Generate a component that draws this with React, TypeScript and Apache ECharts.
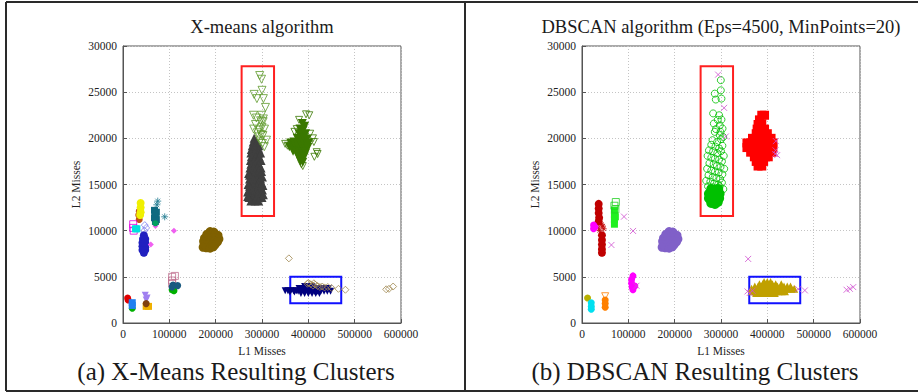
import React, { useEffect, useRef } from "react";
import * as echarts from "echarts";

type P = [number, number];

const panelTitles = ["X-means algorithm", "DBSCAN algorithm (Eps=4500, MinPoints=20)"];
const captions = ["(a) X-Means Resulting Clusters", "(b) DBSCAN Resulting Clusters"];
const xAxisName = "L1 Misses";
const yAxisName = "L2 Misses";
const xRange = [0, 600000, 100000];
const yRange = [0, 30000, 5000];

// highlighted regions [x1, y1, x2, y2]
const redBox = [256000, 11600, 326000, 27800];
const blueBox = [361000, 2150, 471000, 5000];

// ---------- X-means clusters ----------
const xmGray: P[] = [
  [283000, 20000], [281000, 19600], [288000, 19600], [279000, 19200], [286000, 19200], [293000, 19200],
  [277000, 18800], [285000, 18800], [293000, 18800], [276000, 18400], [284000, 18400], [292000, 18400], [297000, 18400],
  [277000, 18000], [286000, 18000], [294000, 18000], [275000, 17600], [283000, 17600], [291000, 17600], [298000, 17600],
  [276000, 17200], [285000, 17200], [293000, 17200], [274000, 16800], [282000, 16800], [290000, 16800], [298000, 16800],
  [275000, 16400], [284000, 16400], [292000, 16400], [299000, 16400], [273000, 16000], [282000, 16000], [290000, 16000], [297000, 16000],
  [273000, 15600], [281000, 15600], [289000, 15600], [297000, 15600], [275000, 15200], [284000, 15200], [292000, 15200], [299000, 15200],
  [273000, 14800], [281000, 14800], [289000, 14800], [297000, 14800],
  [272000, 14400], [280000, 14400], [288000, 14400], [295000, 14400], [301000, 14400],
  [274000, 14000], [282000, 14000], [290000, 14000], [298000, 14000],
  [272000, 13600], [280000, 13600], [288000, 13600], [295000, 13600], [300000, 13600],
  [276000, 13200], [285000, 13200], [293000, 13200],
  [269000, 14200], [270000, 15000], [302000, 14900], [301000, 15800], [271000, 16200], [269000, 13700], [303000, 13900],
];
const xmLightGreenOpen: P[] = [
  [295000, 26800], [299000, 26400], [300000, 25200], [283000, 24760], [289000, 24300], [303000, 24300], [307500, 23350],
  [281600, 22500], [299000, 22500], [286000, 21500], [302400, 21800], [282000, 21000], [294000, 20900], [305400, 21000],
  [292000, 20150], [302000, 20300], [309700, 19800], [301000, 19440], [305000, 19100], [296000, 19700], [288000, 22200],
  [297000, 21900], [300000, 21200], [303000, 22100], [290000, 20600], [298000, 20400],
];
const xmDarkGreen: P[] = [
  [387000, 21600], [392000, 21300], [382000, 21000], [389000, 20900], [380000, 20500], [387000, 20400], [394000, 20500],
  [376000, 20000], [383000, 19900], [390000, 20000], [397000, 19900],
  [362000, 19500], [369000, 19600], [376000, 19500], [383000, 19400], [390000, 19500], [397000, 19400], [401000, 19500],
  [359000, 19100], [366000, 19000], [373000, 19000], [380000, 18900], [387000, 19000], [394000, 18900], [399000, 19000],
  [367000, 18600], [374000, 18500], [381000, 18400], [388000, 18500], [394000, 18400],
  [378000, 18000], [385000, 17900], [391000, 18000], [383000, 17500], [388000, 17400],
];
const xmDarkGreenOpen: P[] = [
  [395000, 22600], [402000, 22500], [380000, 22000], [375000, 21000], [404000, 20500], [410000, 20000], [412000, 19600],
  [418000, 18500], [420000, 18300], [413000, 18000], [355000, 19200], [350000, 19400], [385000, 17200], [388000, 17000], [370000, 20700],
];
const xmNavy: P[] = [
  [350000, 3500], [356000, 3500], [362000, 3500], [368000, 3500], [374000, 3500], [360000, 3350], [370000, 3350],
  [380000, 3750], [387000, 3750], [394000, 3750], [401000, 3750], [408000, 3750], [415000, 3750], [422000, 3750], [429000, 3750], [436000, 3750], [443000, 3750],
  [378000, 3450], [385000, 3450], [392000, 3450], [399000, 3450], [406000, 3450], [413000, 3450], [420000, 3450], [427000, 3450], [434000, 3450], [441000, 3450], [448000, 3450],
  [384000, 3200], [392000, 3200], [400000, 3200], [408000, 3200], [416000, 3200], [424000, 3200],
  [392000, 3950], [400000, 3950], [408000, 3950],
];
const xmTanOpen: P[] = [
  [398000, 4250], [405000, 4200], [410000, 4050], [415000, 4150], [420000, 4000], [425000, 3900], [430000, 3950],
  [435000, 3850], [442000, 3900], [450000, 3800], [465000, 3700], [480000, 3600], [358000, 7000],
  [568000, 3650], [574000, 3700], [583000, 3950], [400000, 4350], [412000, 4300],
];
const xmOlive: P[] = [
  [188000, 9900], [196000, 9850], [181000, 9600], [190000, 9550], [199000, 9600], [205000, 9500],
  [176000, 9200], [184000, 9250], [192000, 9200], [200000, 9250], [207000, 9100],
  [174000, 8850], [181000, 8850], [189000, 8900], [197000, 8850], [204000, 8800],
  [175000, 8500], [183000, 8500], [191000, 8450], [199000, 8500],
  [173000, 8200], [180000, 8150], [188000, 8100], [195000, 8250],
];
const xmYellow: P[] = [[38000, 13000], [38000, 12500], [38000, 12000], [37000, 11700]];
const xmRust: P[] = [[35000, 11200], [34000, 11700], [35000, 12100]];
const xmMagentaOpen: P[] = [[22000, 10700], [22000, 10300], [23000, 10000]];
const xmCyan: P[] = [[30000, 10200], [27000, 10200]];
const xmLavenderOpen: P[] = [[47000, 10600], [50000, 10300], [46000, 10000]];
const xmBlue: P[] = [
  [45000, 9500], [43000, 9100], [48000, 9100], [42000, 8700], [48000, 8700], [42000, 8300], [48000, 8200],
  [42000, 7900], [48000, 7900], [45000, 7600],
];
const xmPink: P[] = [[60000, 8500], [110000, 10000], [70000, 10500], [70000, 10700]];
const xmTealStar: P[] = [[75000, 13200], [73000, 12800], [90000, 11500]];
const xmTeal: P[] = [[68000, 12200], [70000, 11800], [68000, 11400], [72000, 11200], [70000, 11000], [72000, 12000]];
const xmSeaGreen: P[] = [[70000, 10800]];
const xmRoseOpen: P[] = [[106000, 5000], [112000, 5100], [106000, 4600], [106000, 4300]];
const xmSteel: P[] = [[108000, 4100], [118000, 4050], [106000, 3900]];
const xmGreen: P[] = [[106000, 3600], [110000, 3500], [108000, 3800], [20000, 1600]];
const xmRed: P[] = [[10000, 2700], [11000, 2500]];
const xmSky: P[] = [[20000, 2200], [20000, 1900]];
const xmPurpleTri: P[] = [[48000, 3000], [52000, 2700], [50000, 2500]];
const xmBrown: P[] = [[50000, 2100]];
const xmAmber: P[] = [[50000, 1800], [55000, 1800]];

// ---------- DBSCAN clusters ----------
const dbGreenOpen: P[] = [
  [299600, 26300], [286600, 24840], [299600, 25200], [301000, 24300], [288800, 24200], [283000, 22700], [296000, 22500],
  [301000, 22030], [284500, 21600], [297400, 21400], [303300, 21060], [286600, 20700], [297400, 20340], [304600, 20150],
  [281700, 19800], [291600, 19600], [300000, 19900], [293000, 22000], [289000, 21000], [299000, 20700],
  [279000, 19300], [288000, 19100], [296000, 18900], [303000, 19200],
  [274000, 18700], [283000, 18600], [292000, 18400], [300000, 18600], [306000, 18100],
  [271000, 18100], [279000, 17900], [287000, 17800], [296000, 17700], [302000, 17500],
  [275000, 17300], [284000, 17200], [291000, 17000], [299000, 16900], [307000, 16700],
  [270000, 16700], [279000, 16500], [287000, 16400], [295000, 16300], [303000, 16100],
  [273000, 16000], [282000, 15800], [290000, 15700], [298000, 15600],
  [268000, 15400], [277000, 15300], [285000, 15100], [294000, 15000], [302000, 15200],
  [272000, 14800], [281000, 14700], [289000, 14600], [297000, 14800], [305000, 14500],
];
const dbGreen: P[] = [
  [279000, 14500], [287000, 14400], [294000, 14500], [274000, 14000], [282000, 14000], [290000, 13900], [297000, 14000],
  [274000, 13500], [282000, 13500], [290000, 13400], [296000, 13500], [279000, 13000], [287000, 12900], [293000, 13100],
];
const dbNoise: P[] = [
  [293800, 26900], [306700, 23300], [310400, 20200], [418400, 19700], [417700, 18700], [421200, 18180], [417000, 18300],
  [63500, 8450], [110200, 9970], [90700, 11520], [117500, 4030], [358600, 6940], [357200, 3420], [368000, 3490], [362000, 3250],
  [466600, 3670], [481000, 3530], [571000, 3600], [578200, 3700], [585400, 3890],
];
const dbRed: P[] = [
  [388000, 22500], [394000, 22500], [383000, 22000], [380000, 21500], [388000, 21500],
  [378000, 21000], [386000, 21000], [394000, 21000], [376000, 20500], [384000, 20500], [392000, 20500], [400000, 20500],
  [368000, 20000], [376000, 20000], [384000, 20000], [392000, 20000], [400000, 20000], [408000, 20000],
  [356000, 19500], [364000, 19500], [372000, 19500], [380000, 19500], [388000, 19500], [396000, 19500], [404000, 19500], [412000, 19500],
  [356000, 19000], [364000, 19000], [372000, 19000], [380000, 19000], [388000, 19000], [396000, 19000], [404000, 19000], [412000, 19000],
  [364000, 18500], [372000, 18500], [380000, 18500], [388000, 18500], [396000, 18500], [404000, 18500], [410000, 18500],
  [372000, 18000], [380000, 18000], [388000, 18000], [396000, 18000], [402000, 18000],
  [376000, 17500], [384000, 17500], [392000, 17500], [380000, 17000], [388000, 17000],
];
const dbDarkRed: P[] = [
  [36000, 12900], [36000, 12400], [36000, 11900], [37000, 11400], [36000, 11000],
  [43000, 9500], [43000, 9000], [43000, 8500], [43000, 8000], [43000, 7600],
];
const dbDarkRedStar: P[] = [[45000, 10500], [35000, 10300], [42000, 10700], [38000, 10000], [47000, 10200]];
const dbMagenta: P[] = [
  [25000, 10600], [25000, 10200], [28000, 10400],
  [110000, 5100], [107000, 4700], [107000, 4300], [108000, 3900], [110000, 3600], [114000, 4000],
];
const dbLime: P[] = [[70000, 12200], [70000, 11700], [70000, 11200], [70000, 10700], [72000, 11500]];
const dbLimeOpen: P[] = [[73000, 13100], [70000, 12700], [72000, 12300]];
const dbPurple: P[] = [
  [188000, 9900], [196000, 9850], [181000, 9600], [190000, 9550], [199000, 9600], [205000, 9500],
  [176000, 9200], [184000, 9250], [192000, 9200], [200000, 9250], [207000, 9100],
  [174000, 8850], [181000, 8850], [189000, 8900], [197000, 8850], [204000, 8800],
  [175000, 8500], [183000, 8500], [191000, 8450], [199000, 8500],
  [173000, 8200], [180000, 8150], [188000, 8100], [195000, 8250],
];
const dbOlive: P[] = [[12000, 2700]];
const dbCyan: P[] = [[20000, 2200], [20000, 1800], [20000, 1500]];
const dbOrange: P[] = [[50000, 2500], [50000, 2100], [50000, 1700]];
const dbOrangeOpen: P[] = [[50000, 2900]];
const dbGold: P[] = [
  [393000, 4450], [400000, 4450], [407000, 4450],
  [383000, 4200], [390000, 4200], [397000, 4200], [404000, 4200], [411000, 4200], [418000, 4200], [430000, 4200],
  [373000, 3950], [380000, 3950], [387000, 3950], [394000, 3950], [401000, 3950], [408000, 3950], [415000, 3950], [422000, 3950],
  [429000, 3950], [436000, 3950], [443000, 3950], [450000, 3950],
  [366000, 3700], [373000, 3700], [380000, 3700], [387000, 3700], [394000, 3700], [401000, 3700], [408000, 3700], [415000, 3700],
  [422000, 3700], [429000, 3700], [436000, 3700], [443000, 3700], [452000, 3700], [458000, 3700],
  [368000, 3450], [375000, 3450], [382000, 3450], [389000, 3450], [396000, 3450], [403000, 3450], [410000, 3450], [417000, 3450],
  [424000, 3450], [431000, 3450], [438000, 3450],
  [376000, 3250], [386000, 3250], [396000, 3250], [406000, 3250], [416000, 3250],
];

const CROSS = "path://M0,0L10,10M10,0L0,10";
const STAR = "path://M5,0L5,10M0,5L10,5M1.5,1.5L8.5,8.5M8.5,1.5L1.5,8.5";
const SERIF = "'Liberation Serif', 'DejaVu Serif', serif";

function sc(
  data: P[], g: number, symbol: string, size: number, color: string,
  hollow = false, rotate = 0, extra: any = {}
) {
  return {
    type: "scatter",
    xAxisIndex: g,
    yAxisIndex: g,
    data,
    symbol,
    symbolSize: size,
    symbolRotate: rotate,
    silent: true,
    itemStyle: hollow
      ? { color: "rgba(0,0,0,0)", borderColor: color, borderWidth: 1 }
      : { color, opacity: 1 },
    ...extra,
  };
}

function box(b: number[], color: string) {
  return {
    silent: true,
    itemStyle: { color: "rgba(0,0,0,0)", borderColor: color, borderWidth: 2 },
    data: [[{ coord: [b[0], b[1]] }, { coord: [b[2], b[3]] }]],
  };
}

const App: React.FC = () => {
  const ref = useRef<HTMLDivElement>(null);
  useEffect(() => {
    if (!ref.current) return;
    const chart = echarts.init(ref.current, undefined, { renderer: "svg" });
    const grids = [
      { left: 123, top: 46, width: 278, height: 277 },
      { left: 582, top: 46, width: 278, height: 277 },
    ].map((g) => ({ ...g, show: true, borderColor: "#555", borderWidth: 1, backgroundColor: "transparent" }));
    const axisLabel = { fontFamily: SERIF, fontSize: 11.5, color: "#222", formatter: (v: number) => String(v) };
    const xAxes = [0, 1].map((i) => ({
      type: "value", gridIndex: i, min: xRange[0], max: xRange[1], interval: xRange[2],
      name: xAxisName, nameLocation: "middle", nameGap: 18,
      nameTextStyle: { fontFamily: SERIF, fontSize: 11.5, color: "#222" },
      axisLine: { show: true, lineStyle: { color: "#555" } },
      axisTick: { show: true, inside: true, length: 4, lineStyle: { color: "#555" } },
      axisLabel: { ...axisLabel, margin: 5 },
      splitLine: { show: true, lineStyle: { color: "#c4c4c4", type: [1, 2] } },
    }));
    const yAxes = [0, 1].map((i) => ({
      type: "value", gridIndex: i, min: yRange[0], max: yRange[1], interval: yRange[2],
      name: yAxisName, nameLocation: "middle", nameGap: 41,
      nameTextStyle: { fontFamily: SERIF, fontSize: 11.5, color: "#222" },
      axisLine: { show: true, lineStyle: { color: "#555" } },
      axisTick: { show: true, inside: true, length: 4, lineStyle: { color: "#555" } },
      axisLabel: { ...axisLabel, margin: 6 },
      splitLine: { show: true, lineStyle: { color: "#c4c4c4", type: [1, 2] } },
    }));

    const series: any[] = [
      // X-means
      sc(xmGray, 0, "triangle", 9, "#3f3f3f", false, 0, { markArea: box(redBox, "#ff2020") }),
      sc(xmLightGreenOpen, 0, "triangle", 8, "#5e9a2a", true, 180),
      sc(xmDarkGreen, 0, "triangle", 9, "#3a7800", false, 180),
      sc(xmDarkGreenOpen, 0, "triangle", 7, "#3a7800", true, 180),
      sc(xmNavy, 0, "triangle", 7, "#00007f", false, 180, { markArea: box(blueBox, "#1010ff") }),
      sc(xmTanOpen, 0, "diamond", 7, "#a08850", true),
      sc(xmOlive, 0, "circle", 9, "#7f6000"),
      sc(xmRust, 0, "circle", 7, "#c05018"),
      sc(xmYellow, 0, "circle", 8, "#f0f000"),
      sc(xmMagentaOpen, 0, "rect", 7, "#e000e0", true),
      sc(xmCyan, 0, "rect", 7, "#00e0e0"),
      sc(xmLavenderOpen, 0, "diamond", 7, "#8080f0", true),
      sc(xmBlue, 0, "circle", 8, "#2020c0"),
      sc(xmPink, 0, "diamond", 6, "#f060f0"),
      sc(xmTealStar, 0, STAR, 7, "#207a90", true),
      sc(xmTeal, 0, "rect", 7, "#106a80"),
      sc(xmSeaGreen, 0, "circle", 6, "#00a060"),
      sc(xmRoseOpen, 0, "rect", 7, "#c07090", true),
      sc(xmGreen, 0, "circle", 7, "#00b000"),
      sc(xmSteel, 0, "circle", 7, "#1a5a80"),
      sc(xmRed, 0, "circle", 7, "#e00000"),
      sc(xmSky, 0, "rect", 7, "#2080f0"),
      sc(xmPurpleTri, 0, "triangle", 7, "#a080f0", false, 180),
      sc(xmAmber, 0, "rect", 7, "#f0b000"),
      sc(xmBrown, 0, "circle", 7, "#804010"),
      // DBSCAN
      sc(dbGreenOpen, 1, "circle", 7, "#00c000", true, 0, { markArea: box(redBox, "#ff2020") }),
      sc(dbGreen, 1, "circle", 10, "#00c000"),
      sc(dbRed, 1, "rect", 9, "#ff0000"),
      sc(dbGold, 1, "triangle", 8, "#c0a000", false, 0, { markArea: box(blueBox, "#1010ff") }),
      sc(dbPurple, 1, "circle", 9, "#8060c8"),
      sc(dbDarkRed, 1, "circle", 8, "#c00000"),
      sc(dbDarkRedStar, 1, STAR, 6, "#c00000", true),
      sc(dbMagenta, 1, "circle", 7, "#ff00ff"),
      sc(dbLime, 1, "rect", 7, "#20f020"),
      sc(dbLimeOpen, 1, "rect", 7, "#20d020", true),
      sc(dbOlive, 1, "circle", 7, "#b8b000"),
      sc(dbCyan, 1, "circle", 7, "#00e0f0"),
      sc(dbOrange, 1, "circle", 7, "#ff8000"),
      sc(dbOrangeOpen, 1, "triangle", 7, "#ff8000", true, 180),
      sc(dbNoise, 1, CROSS, 6, "#d050d0", true),
    ];

    const line = (x1: number, y1: number, x2: number, y2: number) => ({
      type: "line", silent: true,
      shape: { x1, y1, x2, y2 },
      style: { stroke: "#2a2a2a", lineWidth: 2 },
    });
    const text = (t: string, x: number, y: number, size: number) => ({
      type: "text", silent: true, x, y,
      style: { text: t, fontFamily: SERIF, fontSize: size, fill: "#1a1a1a", align: "center", verticalAlign: "middle" },
    });

    chart.setOption({
      animation: false,
      backgroundColor: "#ffffff",
      grid: grids,
      xAxis: xAxes,
      yAxis: yAxes,
      series,
      graphic: [
        line(6, 2, 918, 2),
        line(6, 2, 6, 391),
        line(465, 2, 465, 391),
        line(6, 391, 918, 391),
        text(panelTitles[0], 262, 27, 18.5),
        text(panelTitles[1], 721, 27, 18.5),
        text(captions[0], 236, 371, 25),
        text(captions[1], 695, 371, 25),
      ],
    });
    return () => chart.dispose();
  }, []);
  return <div ref={ref} style={{ position: "fixed", left: 0, top: 0, width: 918, height: 392 }} />;
};

export default App;
